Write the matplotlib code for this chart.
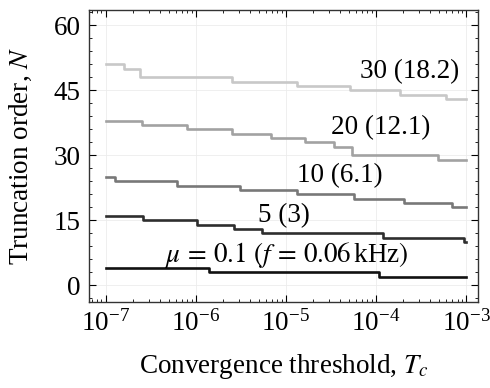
import numpy as np
import matplotlib
matplotlib.use("Agg")
import matplotlib.pyplot as plt
from matplotlib.ticker import LogLocator, MultipleLocator, NullFormatter

plt.rcParams['font.family'] = ['Liberation Serif', 'DejaVu Serif']
plt.rcParams['mathtext.fontset'] = 'stix'

# Step data: log10(T_c) positions where N changes, and N on each segment
mu_labels = ["30 (18.2)", "20 (12.1)", "10 (6.1)", "5 (3)",
             r"$\mu\,=\,0.1\ (f\,=\,0.06\,$kHz$)$"]

edges_30 = [-6.80, -6.62, -5.60, -4.88, -4.29, -3.73, -3.23]
vals_30 = [51, 50, 48, 47, 46, 45, 44, 43]

edges_20 = [-6.60, -6.10, -5.60, -5.17, -4.79, -4.47, -4.27, -3.31]
vals_20 = [38, 37, 36, 35, 34, 33, 32, 30, 29]

edges_10 = [-6.89, -6.21, -5.51, -4.88, -4.25, -3.69, -3.16]
vals_10 = [25, 24, 23, 22, 21, 20, 19, 18]

edges_5 = [-6.58, -5.99, -5.58, -5.27, -3.92, -3.02]
vals_5 = [16, 15, 14, 13, 12, 11, 10]

edges_01 = [-5.85, -3.97]
vals_01 = [4, 3, 2]

series = [(edges_30, vals_30), (edges_20, vals_20), (edges_10, vals_10),
          (edges_5, vals_5), (edges_01, vals_01)]
colors = ["#c8c8c8", "#a2a2a2", "#787878", "#2e2e2e", "#111111"]

# label positions (log10 T, N, ha)
label_pos = [(-3.08, 49.4, 'right'), (-3.40, 36.4, 'right'),
             (-3.93, 25.2, 'right'), (-5.02, 16.0, 'center'),
             (-4.99, 7.1, 'center')]

fig = plt.figure(figsize=(4.9, 3.88), dpi=100)
ax = fig.add_axes([89/490, 1 - 302/388, (478 - 89)/490, (302 - 10)/388])

for (edges, vals), c in zip(series, colors):
    xs = 10.0 ** np.array([-7.0] + list(edges) + [-3.0])
    ys = list(vals) + [vals[-1]]
    ax.plot(xs, ys, drawstyle='steps-post', color=c, lw=1.9)

FS = 19.5
for lab, (lx, ly, ha) in zip(mu_labels, label_pos):
    ax.text(10 ** lx, ly, lab, ha=ha, va='center', fontsize=FS)

ax.set_xscale('log')
ax.set_xlim(10 ** -7.183, 10 ** -2.87)
ax.set_ylim(-3.85, 63.5)
ax.xaxis.set_major_locator(LogLocator(base=10, numticks=10))
ax.xaxis.set_minor_locator(LogLocator(base=10, subs=np.arange(2, 10), numticks=20))
ax.xaxis.set_minor_formatter(NullFormatter())
ax.yaxis.set_major_locator(MultipleLocator(15))
ax.yaxis.set_minor_locator(MultipleLocator(3))
ax.tick_params(which='both', direction='in', top=True, right=True, labelsize=FS)
ax.tick_params(which='major', length=5, width=0.8, pad=6)
ax.tick_params(which='minor', length=2.5, width=0.6)
ax.grid(True, which='major', color='#ececec', lw=0.6)
ax.set_axisbelow(True)
for s in ax.spines.values():
    s.set_linewidth(1.0)
    s.set_color('#333333')

ax.set_xlabel(r"Convergence threshold, $T_c$", fontsize=FS, labelpad=11)
ax.set_ylabel(r"Truncation order, $N$", fontsize=FS, labelpad=14)

fig.savefig("out.png", dpi=100)
